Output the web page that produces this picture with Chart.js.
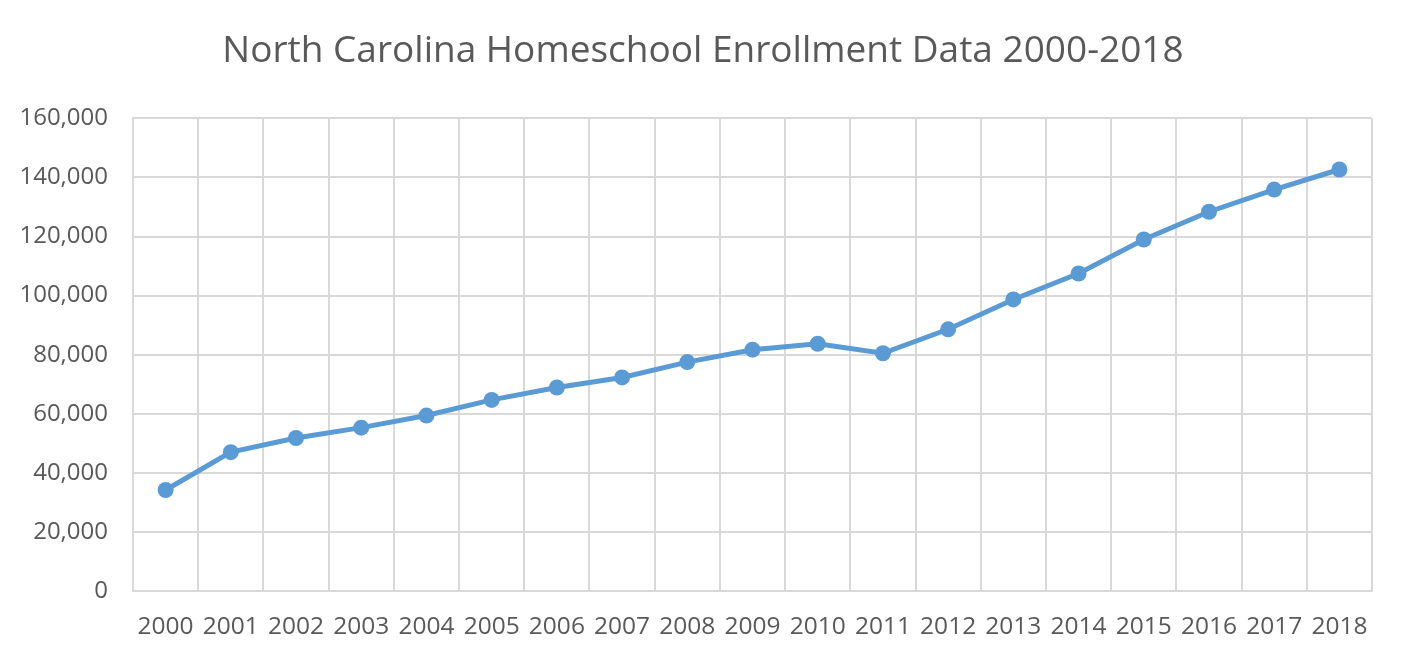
<!DOCTYPE html>
<html>
<head>
<meta charset="utf-8">
<script src="https://cdn.jsdelivr.net/npm/chart.js@4.4.1/dist/chart.umd.min.js"></script>
<style>
  html, body { margin: 0; padding: 0; background: #fff; }
  #wrap { width: 1406px; height: 658px; }
</style>
</head>
<body>
<div id="wrap"><canvas id="enrollChart"></canvas></div>
<script>
// data
const years = ['2000', '2001', '2002', '2003', '2004', '2005', '2006', '2007', '2008', '2009',
               '2010', '2011', '2012', '2013', '2014', '2015', '2016', '2017', '2018'];
const enrollment = [34200, 47000, 51800, 55300, 59400, 64700, 68900, 72300, 77500, 81700,
                    83700, 80500, 88600, 98700, 107500, 119000, 128400, 135900, 142700];
const yTicks = [0, 20000, 40000, 60000, 80000, 100000, 120000, 140000, 160000];

const textColor = '#595959';
const gridColor = '#D9D9D9';
const lineColor = '#5B9BD5';
const fontFamily = '"Open Sans", "Liberation Sans", sans-serif';

// title should sit in the middle of the whole canvas, not of the padded box
const centreTitle = {
    id: 'centreTitle',
    afterLayout(chart) {
        if (chart.titleBlock) {
            chart.titleBlock.left = 0;
            chart.titleBlock.right = chart.width;
        }
    }
};

const ctx = document.getElementById('enrollChart').getContext('2d');
new Chart(ctx, {
    type: 'line',
    data: {
        labels: years,
        datasets: [{
            label: 'Enrollment',
            data: enrollment,
            borderColor: lineColor,
            backgroundColor: lineColor,
            borderWidth: 5,
            pointRadius: 8,
            pointHoverRadius: 8,
            pointBorderWidth: 0,
            tension: 0
        }]
    },
    plugins: [centreTitle],
    options: {
        responsive: true,
        maintainAspectRatio: false,
        animation: false,
        layout: { padding: { left: 0, right: 34, top: 0, bottom: 0 } },
        plugins: {
            legend: { display: false },
            tooltip: { enabled: false },
            title: {
                display: true,
                text: 'North Carolina Homeschool Enrollment Data 2000-2018',
                color: textColor,
                font: { family: fontFamily, size: 37, weight: 'normal', lineHeight: 1.2 },
                padding: { top: 29, bottom: 45 }
            }
        },
        scales: {
            x: {
                offset: true,
                grid: { offset: true, color: gridColor, lineWidth: 2, drawTicks: false },
                border: { color: gridColor, width: 2 },
                ticks: {
                    color: textColor,
                    font: { family: fontFamily, size: 24.5 },
                    padding: 21,
                    maxRotation: 0,
                    autoSkip: false
                },
                afterFit: scale => { scale.height = 67; }
            },
            y: {
                min: 0,
                max: 160000,
                afterBuildTicks: scale => { scale.ticks = yTicks.map(v => ({ value: v })); },
                grid: { color: gridColor, lineWidth: 2, drawTicks: false },
                border: { color: gridColor, width: 2 },
                ticks: {
                    color: textColor,
                    font: { family: fontFamily, size: 24 },
                    padding: 25,
                    callback: v => v.toLocaleString('en-US')
                },
                afterFit: scale => { scale.width = 133; }
            }
        }
    }
});
</script>
</body>
</html>
